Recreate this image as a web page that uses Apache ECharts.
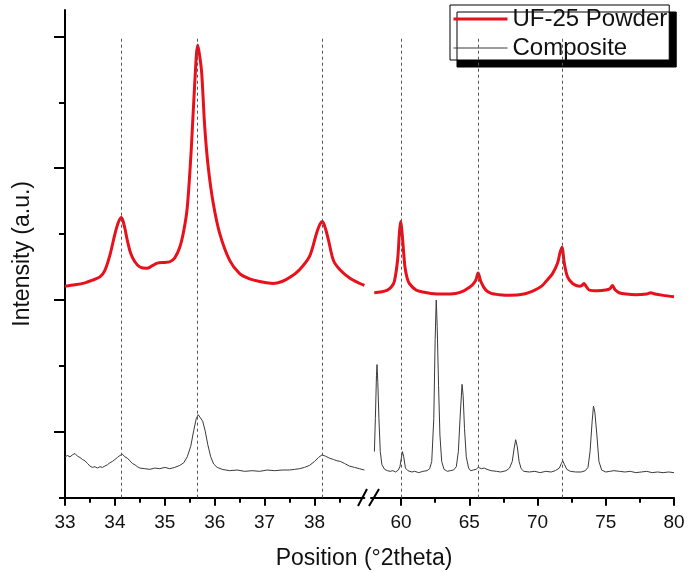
<!DOCTYPE html>
<html>
<head>
<meta charset="utf-8">
<script src="https://cdn.jsdelivr.net/npm/echarts@6/dist/echarts.min.js"></script>
<style>
  html, body { margin: 0; padding: 0; background: #fff; }
  #chart { width: 696px; height: 572px; }
</style>
</head>
<body>
<div id="chart"></div>
<script>
'use strict'

// x ranges of the two panels of the broken axis
const leftRange = [33, 39];
const rightRange = [57.8, 80];

const leftTicks = [33, 34, 35, 36, 37, 38];
const leftMinor = [33.5, 34.5, 35.5, 36.5, 37.5, 38.5];
const rightTicks = [60, 65, 70, 75, 80];
const rightMinor = [62.5, 67.5, 72.5, 77.5];
const yMajor = [1, 3, 5, 7];
const yMinor = [0, 2, 4, 6];

// dashed reference peak positions
const refLeft = [34.13, 35.66, 38.16];
const refRight = [60.0, 65.65, 71.8];

const powderLeft = [
  [33.0, 3.21], [33.2, 3.23], [33.4, 3.26], [33.55, 3.30], [33.7, 3.35], [33.8, 3.45],
  [33.9, 3.68], [34.0, 4.0], [34.07, 4.18], [34.13, 4.25], [34.19, 4.12], [34.25, 3.9],
  [34.32, 3.7], [34.4, 3.58], [34.5, 3.5], [34.64, 3.48], [34.75, 3.52], [34.85, 3.56],
  [35.0, 3.57], [35.1, 3.58], [35.2, 3.64], [35.3, 3.8], [35.38, 4.05], [35.45, 4.4],
  [35.53, 5.28], [35.6, 6.29], [35.66, 6.87], [35.7, 6.7], [35.74, 6.44], [35.8, 5.63],
  [35.87, 5.02], [35.97, 4.47], [36.1, 4.01], [36.3, 3.6], [36.5, 3.4], [36.7, 3.32],
  [36.9, 3.28], [37.17, 3.25], [37.35, 3.28], [37.5, 3.34], [37.7, 3.46], [37.9, 3.66],
  [38.04, 4.01], [38.11, 4.15], [38.16, 4.19], [38.22, 4.08], [38.28, 3.91], [38.38, 3.6],
  [38.51, 3.46], [38.71, 3.33], [38.91, 3.25], [39.0, 3.22]
];

const powderRight = [
  [58.04, 3.11], [58.5, 3.12], [59.0, 3.15], [59.3, 3.2], [59.51, 3.28], [59.75, 3.61],
  [59.88, 4.01], [59.97, 4.19], [60.04, 4.1], [60.12, 3.91], [60.2, 3.7], [60.29, 3.5],
  [60.45, 3.33], [60.61, 3.25], [61.1, 3.15], [61.6, 3.12], [62.2, 3.1], [63.0, 3.09],
  [64.0, 3.1], [64.6, 3.14], [65.0, 3.19], [65.24, 3.23], [65.48, 3.3], [65.65, 3.41],
  [65.85, 3.28], [66.21, 3.15], [66.6, 3.1], [67.2, 3.08], [68.0, 3.07], [69.0, 3.09],
  [69.8, 3.15], [70.3, 3.21], [70.62, 3.28], [71.1, 3.4], [71.47, 3.56], [71.64, 3.71],
  [71.79, 3.8], [71.96, 3.56], [72.2, 3.35], [72.57, 3.25], [73.06, 3.21], [73.25, 3.22],
  [73.4, 3.25], [73.55, 3.21], [73.8, 3.15], [74.4, 3.14], [75.0, 3.15], [75.3, 3.17],
  [75.49, 3.22], [75.7, 3.15], [75.98, 3.11], [76.5, 3.09], [77.2, 3.08], [78.0, 3.09],
  [78.3, 3.11], [78.6, 3.09], [79.2, 3.07], [80.0, 3.05]
];

const compositeLeft = [
  [33.0, 0.62], [33.05, 0.64], [33.1, 0.62], [33.15, 0.65], [33.2, 0.67], [33.25, 0.63],
  [33.3, 0.61], [33.35, 0.58], [33.4, 0.56], [33.45, 0.52], [33.5, 0.48], [33.55, 0.46],
  [33.6, 0.47], [33.65, 0.45], [33.7, 0.47], [33.75, 0.46], [33.8, 0.48], [33.85, 0.5],
  [33.9, 0.53], [33.95, 0.55], [34.0, 0.58], [34.05, 0.61], [34.1, 0.64], [34.15, 0.66],
  [34.2, 0.62], [34.25, 0.6], [34.3, 0.56], [34.35, 0.52], [34.4, 0.5], [34.45, 0.47],
  [34.5, 0.45], [34.6, 0.44], [34.7, 0.43], [34.8, 0.45], [34.9, 0.44], [35.0, 0.46],
  [35.1, 0.44], [35.2, 0.46], [35.3, 0.49], [35.38, 0.53], [35.45, 0.62], [35.52, 0.78],
  [35.58, 1.02], [35.63, 1.2], [35.67, 1.26], [35.71, 1.24], [35.76, 1.16], [35.81, 1.01],
  [35.86, 0.81], [35.92, 0.62], [35.98, 0.51], [36.05, 0.46], [36.15, 0.43], [36.3, 0.41],
  [36.45, 0.42], [36.6, 0.4], [36.75, 0.41], [36.9, 0.4], [37.05, 0.42], [37.2, 0.41],
  [37.35, 0.42], [37.5, 0.42], [37.6, 0.43], [37.7, 0.44], [37.8, 0.46], [37.9, 0.49],
  [38.0, 0.55], [38.08, 0.61], [38.15, 0.65], [38.22, 0.63], [38.3, 0.6], [38.38, 0.58],
  [38.45, 0.56], [38.52, 0.55], [38.6, 0.52], [38.7, 0.48], [38.8, 0.46], [38.9, 0.44],
  [39.0, 0.42]
];

const compositeRight = [
  [58.05, 0.7], [58.12, 1.2], [58.2, 1.85], [58.24, 2.02], [58.3, 1.75], [58.38, 1.2],
  [58.48, 0.7], [58.6, 0.5], [58.8, 0.43], [59.0, 0.41], [59.2, 0.4], [59.4, 0.41],
  [59.6, 0.39], [59.8, 0.42], [59.92, 0.47], [60.02, 0.6], [60.1, 0.7], [60.2, 0.62],
  [60.32, 0.45], [60.5, 0.41], [60.8, 0.39], [61.0, 0.4], [61.3, 0.38], [61.6, 0.4],
  [61.9, 0.41], [62.1, 0.44], [62.25, 0.55], [62.4, 1.2], [62.5, 2.4], [62.58, 3.0],
  [62.65, 2.6], [62.75, 1.7], [62.85, 0.95], [62.98, 0.55], [63.15, 0.43], [63.4, 0.4],
  [63.6, 0.41], [63.85, 0.42], [64.05, 0.47], [64.2, 0.7], [64.35, 1.3], [64.47, 1.72],
  [64.55, 1.55], [64.65, 1.05], [64.78, 0.62], [64.95, 0.45], [65.1, 0.41], [65.3, 0.42],
  [65.5, 0.43], [65.65, 0.46], [65.75, 0.47], [65.88, 0.44], [66.1, 0.45], [66.3, 0.43],
  [66.6, 0.41], [67.0, 0.4], [67.3, 0.39], [67.7, 0.41], [67.95, 0.45], [68.15, 0.55],
  [68.28, 0.74], [68.4, 0.88], [68.52, 0.77], [68.65, 0.55], [68.8, 0.44], [69.0, 0.4],
  [69.4, 0.39], [69.8, 0.4], [70.2, 0.38], [70.6, 0.4], [71.0, 0.39], [71.3, 0.41],
  [71.6, 0.45], [71.75, 0.52], [71.85, 0.56], [71.98, 0.5], [72.15, 0.43], [72.4, 0.4],
  [72.8, 0.39], [73.2, 0.39], [73.5, 0.41], [73.7, 0.46], [73.85, 0.7], [74.0, 1.15],
  [74.1, 1.39], [74.2, 1.3], [74.35, 0.95], [74.5, 0.55], [74.7, 0.42], [75.0, 0.39],
  [75.3, 0.4], [75.6, 0.41], [76.0, 0.4], [76.4, 0.39], [76.8, 0.4], [77.2, 0.38],
  [77.6, 0.39], [78.0, 0.4], [78.4, 0.38], [78.8, 0.39], [79.2, 0.38], [79.6, 0.39],
  [80.0, 0.38]
];

const yMax = 7.4;
const FONT = 'Liberation Sans, Arial, sans-serif';
const RED = '#e8101a';
const GRAY = '#3a3a3a';

function refLines(list) {
  return list.map(x => [{coord: [x, 0]}, {coord: [x, 7]}]);
}

function xAxes(gridIndex, range, major, minor) {
  return [{
    gridIndex: gridIndex, type: 'value', position: 'bottom', min: range[0], max: range[1],
    axisLine: {lineStyle: {color: '#000', width: 2}},
    axisTick: {customValues: major, length: 8, lineStyle: {color: '#000', width: 2}},
    axisLabel: {customValues: major, fontSize: 19, fontFamily: FONT, color: '#111', margin: 16},
    splitLine: {show: false}
  }, {
    gridIndex: gridIndex, type: 'value', position: 'bottom', min: range[0], max: range[1],
    axisLine: {show: false},
    axisTick: {customValues: minor, length: 5, lineStyle: {color: '#000', width: 2}},
    axisLabel: {show: false},
    splitLine: {show: false}
  }];
}

const chart = echarts.init(document.getElementById('chart'), null, {renderer: 'canvas'});

chart.setOption({
  animation: false,
  backgroundColor: '#fff',
  grid: [
    {left: 65, top: 10, width: 299.4, bottom: 74.3},
    {left: 371, top: 10, right: 22, bottom: 74.3}
  ],
  legend: {
    data: [
      {name: 'UF-25 Powder', lineStyle: {width: 3, color: RED}},
      {name: 'Composite', lineStyle: {width: 1, color: GRAY}}
    ],
    orient: 'vertical',
    left: 450, top: 5,
    padding: [2, 2, 0, 2],
    itemWidth: 54, itemHeight: 14, itemGap: 5,
    selectedMode: false,
    backgroundColor: '#fff',
    borderColor: '#000', borderWidth: 1,
    shadowColor: '#000', shadowBlur: 0, shadowOffsetX: 7, shadowOffsetY: 7,
    itemStyle: {opacity: 0},
    textStyle: {fontSize: 24, fontFamily: FONT, color: '#111'}
  },
  xAxis: [].concat(
    xAxes(0, leftRange, leftTicks, leftMinor),
    xAxes(1, rightRange, rightTicks, rightMinor)
  ),
  yAxis: [{
    gridIndex: 0, type: 'value', position: 'left', min: 0, max: yMax,
    name: 'Intensity (a.u.)', nameLocation: 'middle', nameGap: 31,
    nameTextStyle: {fontSize: 23, fontFamily: FONT, color: '#111'},
    axisLine: {show: true, lineStyle: {color: '#000', width: 2}},
    axisTick: {customValues: yMajor, length: 11, lineStyle: {color: '#000', width: 2}},
    axisLabel: {show: false},
    splitLine: {show: false}
  }, {
    gridIndex: 0, type: 'value', position: 'left', min: 0, max: yMax,
    axisLine: {show: false},
    axisTick: {customValues: yMinor, length: 6, lineStyle: {color: '#000', width: 2}},
    axisLabel: {show: false},
    splitLine: {show: false}
  }, {
    gridIndex: 1, type: 'value', min: 0, max: yMax, show: false
  }],
  series: [{
    name: 'Composite', type: 'line', xAxisIndex: 0, yAxisIndex: 0,
    data: compositeLeft, symbol: 'none',
    lineStyle: {color: GRAY, width: 1}, itemStyle: {color: GRAY},
    markLine: {
      silent: true, symbol: ['none', 'none'], label: {show: false},
      lineStyle: {type: [3, 3], color: '#555', width: 1},
      data: refLines(refLeft)
    }
  }, {
    name: 'Composite', type: 'line', xAxisIndex: 2, yAxisIndex: 2,
    data: compositeRight, symbol: 'none',
    lineStyle: {color: GRAY, width: 1}, itemStyle: {color: GRAY},
    markLine: {
      silent: true, symbol: ['none', 'none'], label: {show: false},
      lineStyle: {type: [3, 3], color: '#555', width: 1},
      data: refLines(refRight)
    }
  }, {
    name: 'UF-25 Powder', type: 'line', xAxisIndex: 0, yAxisIndex: 0,
    data: powderLeft, symbol: 'none', smooth: 0.3,
    lineStyle: {color: RED, width: 3}, itemStyle: {color: RED}
  }, {
    name: 'UF-25 Powder', type: 'line', xAxisIndex: 2, yAxisIndex: 2,
    data: powderRight, symbol: 'none', smooth: 0.3,
    lineStyle: {color: RED, width: 3}, itemStyle: {color: RED}
  }],
  graphic: [
    {type: 'line', shape: {x1: 358, y1: 506, x2: 367, y2: 489}, style: {stroke: '#000', lineWidth: 2}},
    {type: 'line', shape: {x1: 369, y1: 506, x2: 379, y2: 489}, style: {stroke: '#000', lineWidth: 2}},
    {type: 'text', x: 364, y: 559,
      style: {text: 'Position (°2theta)', font: '23px ' + FONT, fill: '#111',
        textAlign: 'center', textVerticalAlign: 'middle'}}
  ]
});
</script>
</body>
</html>
